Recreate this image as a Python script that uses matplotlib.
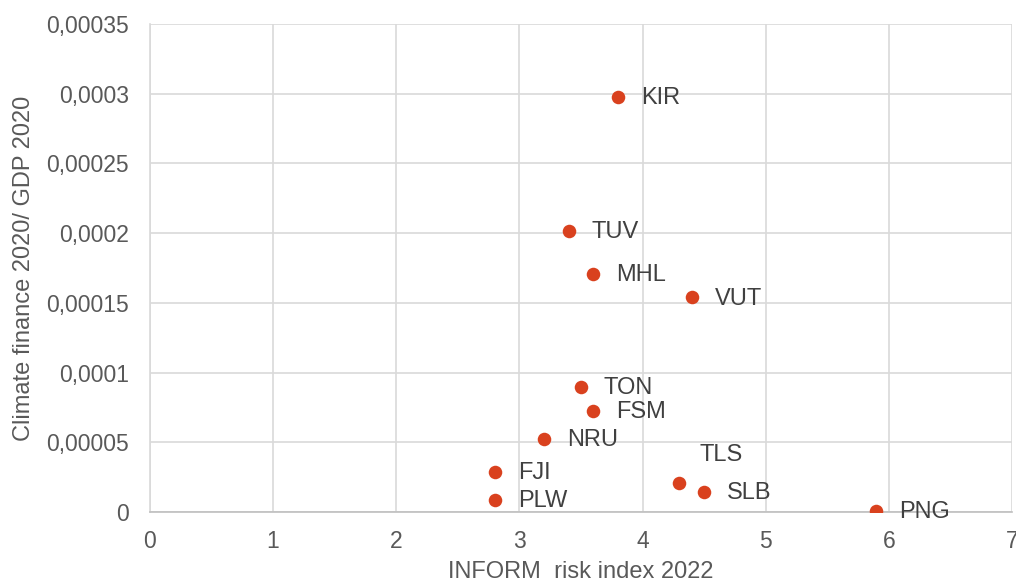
import numpy as np
import matplotlib.pyplot as plt
from matplotlib.ticker import FixedLocator, FixedFormatter

plt.rcParams['font.family'] = ['Liberation Sans', 'DejaVu Sans']

# donnees
pays = ["KIR", "TUV", "MHL", "VUT", "TON", "FSM", "NRU", "FJI", "PLW", "TLS", "SLB", "PNG"]
inform = [3.8, 3.4, 3.6, 4.4, 3.5, 3.6, 3.2, 2.8, 2.8, 4.3, 4.5, 5.9]
finance = [0.000298, 0.0002015, 0.000171, 0.000154, 0.0000897, 0.0000725,
           0.0000524, 0.0000287, 0.0000086, 0.0000208, 0.0000143, 0.000001]

yticks = [0, 0.00005, 0.0001, 0.00015, 0.0002, 0.00025, 0.0003, 0.00035]
ylabels = ["0", "0,00005", "0,0001", "0,00015", "0,0002", "0,00025", "0,0003", "0,00035"]
xticks = [0, 1, 2, 3, 4, 5, 6, 7]

fig = plt.figure(figsize=(10.16, 5.84), dpi=100)
ax = fig.add_axes([0.1476, 0.1233, 0.8484, 0.8356])

ax.scatter(inform, finance, s=95, color="#d9411e", zorder=3, linewidths=0)

for nom, x, y in zip(pays, inform, finance):
    if nom == "TLS":
        off = (14.5, 20)
    else:
        off = (16.5, -1)
    ax.annotate(nom, (x, y), xytext=off, textcoords="offset points",
                va="center", ha="left", fontsize=17, color="#404040")

ax.set_xlim(0, 7)
ax.set_ylim(0, 0.00035)
ax.xaxis.set_major_locator(FixedLocator(xticks))
ax.yaxis.set_major_locator(FixedLocator(yticks))
ax.yaxis.set_major_formatter(FixedFormatter(ylabels))

ax.grid(True, color="#d9d9d9", linewidth=1.2)
ax.set_axisbelow(True)
for s in ["top", "right"]:
    ax.spines[s].set_visible(False)
ax.spines["left"].set_color("#d9d9d9")
ax.spines["bottom"].set_color("#bfbfbf")
ax.spines["left"].set_linewidth(1.2)
ax.spines["bottom"].set_linewidth(1.2)
ax.tick_params(length=0, labelsize=16.5, labelcolor="#595959")
ax.tick_params(axis="y", pad=15)
ax.tick_params(axis="x", pad=13)

ax.set_xlabel("INFORM  risk index 2022", fontsize=17, color="#595959", labelpad=6)
ax.set_ylabel("Climate finance 2020/ GDP 2020", fontsize=17, color="#595959", labelpad=8)

fig.savefig("out.png", dpi=100)
